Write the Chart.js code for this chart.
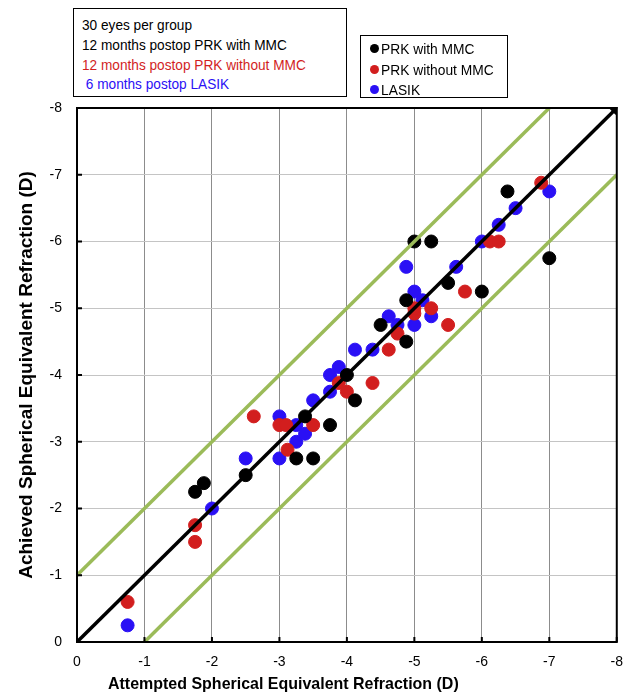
<!DOCTYPE html>
<html>
<head>
<meta charset="utf-8">
<script src="https://cdn.jsdelivr.net/npm/chart.js@4.4.1/dist/chart.umd.min.js"></script>
<style>
    body { margin: 0; background: #fff; }
    #wrap { position: relative; width: 635px; height: 696px; font-family: "Liberation Sans", Arial, sans-serif; }
    #note { position: absolute; left: 73px; top: 8px; width: 264px; height: 81px; border: 1.5px solid #000; padding: 6px 0 0 8px; font-size: 15px; line-height: 19.8px; white-space: pre; background: #fff; }
    #note div { transform: scaleX(0.91); transform-origin: 0 0; }
    #legend { position: absolute; left: 360px; top: 35px; width: 146px; height: 61px; border: 1.5px solid #000; font-size: 15px; background: #fff; }
    .item { position: absolute; left: 9px; height: 20px; line-height: 20px; white-space: nowrap; }
    .item span.txt { display: inline-block; transform: scaleX(0.92); transform-origin: 0 0; }
    .dot { display: inline-block; width: 9px; height: 9px; border-radius: 50%; margin-right: 2px; vertical-align: 1px; }
    #xtitle { position: absolute; left: 108px; top: 674px; font-size: 17px; font-weight: bold; white-space: nowrap; transform: scaleX(0.94); transform-origin: 0 0; }
</style>
</head>
<body>
<div id="wrap">
    <canvas id="scatter-chart" width="635" height="696"></canvas>
    <div id="note"><div>30 eyes per group</div><div>12 months postop PRK with MMC</div><div style="color:#d21e1e">12 months postop PRK without MMC</div><div style="color:#2a10f5"> 6 months postop LASIK</div></div>
    <div id="legend"></div>
    <div id="xtitle">Attempted Spherical Equivalent Refraction (D)</div>
</div>
<script>
// attempted (x) and achieved (y) spherical equivalent
var prkMmcX = [-1.75, -1.88, -2.5, -3.25, -3.5, -3.38, -3.75, -4.0, -4.12, -4.5, -4.88, -4.88, -5.5, -6.0, -5.0, -5.25, -6.38, -7.0];
var prkMmcY = [-2.25, -2.38, -2.5, -2.75, -2.75, -3.38, -3.25, -4.0, -3.62, -4.75, -4.5, -5.12, -5.38, -5.25, -6.0, -6.0, -6.75, -5.75];

var prkNoMmcX = [-0.75, -1.75, -1.75, -2.62, -3.0, -3.1, -3.12, -3.5, -3.88, -4.0, -4.38, -4.62, -4.75, -5.0, -5.0, -5.25, -5.5, -5.75, -6.12, -6.25, -6.88];
var prkNoMmcY = [-0.6, -1.75, -1.5, -3.38, -3.25, -3.25, -2.88, -3.25, -3.88, -3.75, -3.88, -4.38, -4.62, -4.92, -5.0, -5.0, -4.75, -5.25, -6.0, -6.0, -6.88];

var lasikX = [-0.75, -2.0, -2.5, -3.0, -3.0, -3.25, -3.25, -3.38, -3.5, -3.75, -3.75, -3.88, -4.12, -4.38, -4.62, -4.75, -5.0, -5.25, -5.0, -5.12, -5.62, -4.88, -6.0, -6.25, -6.5, -7.0];
var lasikY = [-0.25, -2.0, -2.75, -3.38, -2.75, -3.0, -3.25, -3.12, -3.62, -3.75, -4.0, -4.12, -4.38, -4.38, -4.88, -4.75, -4.75, -4.88, -5.25, -5.12, -5.62, -5.62, -6.0, -6.25, -6.5, -6.75];

// reference lines: perfect correction and +/- 1 D
var idealLine = [[0, 0], [-8, -8]];
var upperLine = [[0, -1], [-7, -8]];
var lowerLine = [[-1, 0], [-8, -7]];

var tickValues = [0, -1, -2, -3, -4, -5, -6, -7, -8];

function toPoints(xs, ys) {
    return xs.map(function (x, i) { return { x: x, y: ys[i] }; });
}
function linePoints(pairs) {
    return pairs.map(function (p) { return { x: p[0], y: p[1] }; });
}

var groups = [
    { label: 'PRK with MMC', color: '#000000', x: prkMmcX, y: prkMmcY },
    { label: 'PRK without MMC', color: '#d21e1e', x: prkNoMmcX, y: prkNoMmcY },
    { label: 'LASIK', color: '#2a10f5', x: lasikX, y: lasikY }
];

var green = '#9bbb59';
var datasets = [
    { data: linePoints(upperLine), showLine: true, borderColor: green, borderWidth: 3.5, pointRadius: 0 },
    { data: linePoints(lowerLine), showLine: true, borderColor: green, borderWidth: 3.5, pointRadius: 0 },
    { data: linePoints(idealLine), showLine: true, borderColor: '#000', borderWidth: 3.5, pointRadius: 0 }
];
groups.forEach(function (g) {
    datasets.push({
        label: g.label,
        data: toPoints(g.x, g.y),
        backgroundColor: g.color,
        borderColor: g.color,
        pointRadius: 6.5,
        pointHoverRadius: 6.5
    });
});

// frame on top/right, inward tick marks, small tip on the ideal line
var framePlugin = {
    id: 'frame',
    afterDraw: function (chart) {
        var ctx = chart.ctx;
        var a = chart.chartArea;
        var xs = chart.scales.x, ys = chart.scales.y;
        ctx.save();
        ctx.strokeStyle = '#000';
        ctx.lineWidth = 2;
        ctx.strokeRect(a.left, a.top, a.right - a.left, a.bottom - a.top);
        tickValues.forEach(function (v) {
            var px = xs.getPixelForValue(v);
            var py = ys.getPixelForValue(v);
            ctx.beginPath();
            ctx.moveTo(px, a.bottom);
            ctx.lineTo(px, a.bottom - 5);
            ctx.moveTo(a.left, py);
            ctx.lineTo(a.left + 5, py);
            ctx.stroke();
        });
        var tx = xs.getPixelForValue(-8), ty = ys.getPixelForValue(-8);
        ctx.fillStyle = '#000';
        ctx.beginPath();
        ctx.moveTo(tx + 1, ty - 1);
        ctx.lineTo(tx - 7, ty + 1);
        ctx.lineTo(tx - 1, ty + 7);
        ctx.closePath();
        ctx.fill();
        ctx.restore();
    }
};

Chart.defaults.font.family = '"Liberation Sans", Arial, sans-serif';
Chart.defaults.color = '#000';

var ctx = document.getElementById('scatter-chart').getContext('2d');
var scatterChart = new Chart(ctx, {
    type: 'scatter',
    data: { datasets: datasets },
    options: {
        responsive: false,
        animation: false,
        layout: { padding: { top: 108, right: 17, left: 0, bottom: 0 } },
        plugins: {
            legend: { display: false },
            tooltip: { enabled: false }
        },
        scales: {
            x: {
                min: -8,
                max: 0,
                reverse: true,
                afterFit: function (scale) { scale.height = 54; },
                grid: { color: '#8c8c8c', lineWidth: 1, drawTicks: false },
                border: { color: '#000', width: 2 },
                ticks: { stepSize: 1, padding: 12, font: { size: 14 } },
                title: { display: false }
            },
            y: {
                min: -8,
                max: 0,
                reverse: true,
                afterFit: function (scale) { scale.width = 77; },
                grid: { color: '#c4c4c4', lineWidth: 1, drawTicks: false },
                border: { color: '#000', width: 2 },
                ticks: { stepSize: 1, padding: 15, font: { size: 14 } },
                title: {
                    display: true,
                    text: 'Achieved Spherical Equivalent Refraction (D)',
                    font: { size: 19, weight: 'bold' },
                    padding: { top: 15, bottom: 0 }
                }
            }
        }
    },
    plugins: [framePlugin]
});

// legend box
var legendBox = document.getElementById('legend');
groups.forEach(function (g, i) {
    var item = document.createElement('div');
    item.className = 'item';
    item.style.top = (3 + i * 20.5) + 'px';
    item.innerHTML = '<span class="dot" style="background:' + g.color + '"></span><span class="txt">' + g.label + '</span>';
    legendBox.appendChild(item);
});
</script>
</body>
</html>
